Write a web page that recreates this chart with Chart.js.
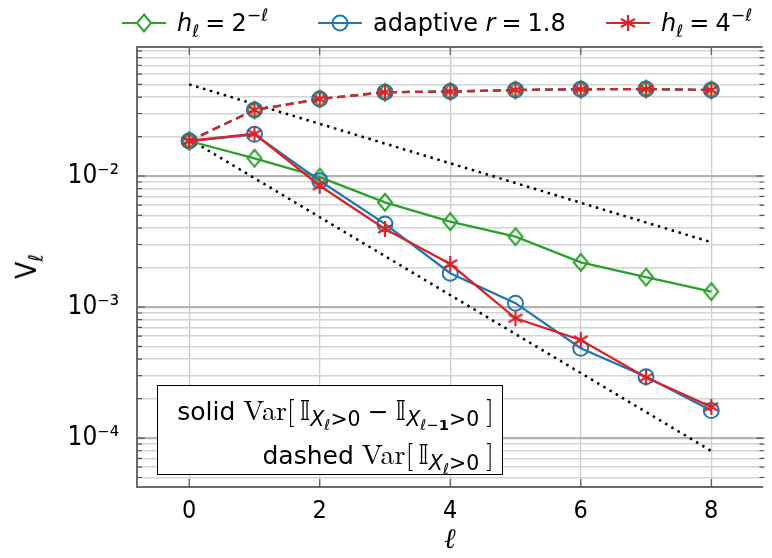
<!DOCTYPE html>
<html>
<head>
<meta charset="utf-8">
<script src="https://cdn.jsdelivr.net/npm/chart.js@4"></script>
<style>
  html, body { margin: 0; padding: 0; background: #fff; overflow: hidden; }
  #wrap { position: relative; width: 772px; height: 558px; font-family: 'DejaVu Sans Condensed', 'DejaVu Sans', sans-serif; color: #000; }
  canvas { position: absolute; left: 0; top: 0; }
  .leg { position: absolute; top: 6px; height: 34px; display: flex; align-items: center; font-family: 'DejaVu Sans', sans-serif; font-size: 24px; white-space: nowrap; }
  .leg svg { margin-right: 11px; }
  .leg .eq { margin: 0 6px; }
  sub, sup { font-size: 72%; line-height: 0; }
  sup { vertical-align: 0.6em; }
  #ylab { position: absolute; left: 14px; top: 250px; font-size: 28px; transform: rotate(-90deg); transform-origin: center; }
  #note { position: absolute; left: 157px; top: 385px; width: 336px; height: 86px; border: 1px solid #000; background: #fff;
          font-family: 'DejaVu Sans', sans-serif; text-align: right; padding-right: 8px; font-size: 25px; line-height: 41px;
          padding-top: 2px; box-sizing: content-box; white-space: nowrap; }
  #note sub { font-size: 82%; vertical-align: -0.28em; }
  #note sub sub { font-size: 72%; vertical-align: -0.28em; }
  .rm { font-family: 'Latin Modern Roman', 'Liberation Serif', 'DejaVu Serif', serif; font-size: 28px; }
  .bb { font-size: 27px; }
  .ob { margin-right: 5px; }
  .cb { margin-left: 7px; }
  .op { margin: 0 7px; }
</style>
</head>
<body>
<div id="wrap">
  <canvas id="chart" width="772" height="558"></canvas>
  <div class="leg" style="left:122px">
    <svg width="44" height="24"><line x1="0" y1="12" x2="44" y2="12" stroke="#2ca02c" stroke-width="2.2"/><path d="M22 3.5 L29 12 L22 20.5 L15 12 Z" fill="#fff" stroke="#2ca02c" stroke-width="2"/></svg>
    <span><i>h</i><sub><i>ℓ</i></sub><span class="eq">=</span>2<sup>−<i>ℓ</i></sup></span>
  </div>
  <div class="leg" style="left:318px">
    <svg width="44" height="24"><line x1="0" y1="12" x2="44" y2="12" stroke="#1f77b4" stroke-width="2.2"/><circle cx="22" cy="12" r="7.5" fill="none" stroke="#1f77b4" stroke-width="2"/></svg>
    <span>adaptive <i>r</i><span class="eq">=</span>1.8</span>
  </div>
  <div class="leg" style="left:606px">
    <svg width="44" height="24"><line x1="0" y1="12" x2="44" y2="12" stroke="#d62728" stroke-width="2.2"/><path d="M22 4 L22 20 M15 8 L29 16 M15 16 L29 8" stroke="#d62728" stroke-width="2.2"/></svg>
    <span><i>h</i><sub><i>ℓ</i></sub><span class="eq">=</span>4<sup>−<i>ℓ</i></sup></span>
  </div>
  <div id="ylab">V<sub><i>ℓ</i></sub></div>
  <div id="note">
    <div>solid <span class="rm">Var</span><span class="rm ob">[</span><span class="bb">𝕀</span><sub><i>X</i><sub><i>ℓ</i></sub>&gt;0</sub><span class="op">−</span><span class="bb">𝕀</span><sub><i>X</i><sub><i>ℓ</i>−<b>1</b></sub>&gt;0</sub><span class="rm cb">]</span></div>
    <div>dashed <span class="rm">Var</span><span class="rm ob">[</span><span class="bb">𝕀</span><sub><i>X</i><sub><i>ℓ</i></sub>&gt;0</sub><span class="rm cb">]</span></div>
  </div>
</div>
<script>
// levels on the x axis
const levels = [0, 1, 2, 3, 4, 5, 6, 7, 8];

// solid lines: Var[I_l - I_{l-1}]
const var2Solid     = [0.0185, 0.01365, 0.0098, 0.0063, 0.00448, 0.00344, 0.00219, 0.00169, 0.00131];
const varAdaptSolid = [0.0185, 0.0208, 0.0092, 0.00431, 0.00181, 0.00107, 0.000484, 0.000294, 0.000162];
const var4Solid     = [0.0185, 0.021, 0.00843, 0.00394, 0.00213, 0.00082, 0.00056, 0.00029, 0.000173];

// dashed lines: Var[I_l]
const var2Dashed     = [0.0185, 0.0319, 0.0387, 0.0436, 0.0441, 0.0453, 0.0459, 0.0461, 0.0453];
const varAdaptDashed = [0.0185, 0.0319, 0.0387, 0.0436, 0.0441, 0.0453, 0.0459, 0.0461, 0.0453];
const var4Dashed     = [0.0185, 0.0319, 0.0387, 0.0436, 0.0441, 0.0453, 0.0459, 0.0461, 0.0453];

// dotted reference slopes
const refLevels = [0, 8];
const refUpper = [0.05, 0.003125];
const refLower = [0.0191, 0.0000797];

// ticks
const xTicks = [0, 2, 4, 6, 8];
const yDecades = [1e-5, 1e-4, 1e-3, 1e-2];
const yLabelled = [1e-4, 1e-3, 1e-2];
const yTickLabels = ['10⁻⁴', '10⁻³', '10⁻²'];

const GREEN = '#2ca02c', BLUE = '#1f77b4', RED = '#d62728';
const FONT = "'DejaVu Sans Condensed', 'DejaVu Sans', sans-serif";

function pts(xs, ys) {
    return xs.map((x, i) => ({ x: x, y: ys[i] }));
}

function makeDiamond(color, w, h) {
    const c = document.createElement('canvas');
    c.width = w + 4; c.height = h + 4;
    const g = c.getContext('2d');
    const cx = c.width / 2, cy = c.height / 2;
    g.strokeStyle = color;
    g.lineWidth = 2;
    g.beginPath();
    g.moveTo(cx, cy - h / 2);
    g.lineTo(cx + w / 2, cy);
    g.lineTo(cx, cy + h / 2);
    g.lineTo(cx - w / 2, cy);
    g.closePath();
    g.stroke();
    return c;
}

function makeStar(color, r) {
    const c = document.createElement('canvas');
    const s = Math.ceil(2 * r + 4);
    c.width = c.height = s;
    const g = c.getContext('2d');
    g.strokeStyle = color;
    g.lineWidth = 2.2;
    g.beginPath();
    for (let k = 0; k < 3; k++) {
        const a = Math.PI / 2 + k * Math.PI / 3;
        g.moveTo(s / 2 + r * Math.cos(a), s / 2 + r * Math.sin(a));
        g.lineTo(s / 2 - r * Math.cos(a), s / 2 - r * Math.sin(a));
    }
    g.stroke();
    return c;
}

const diamond = makeDiamond(GREEN, 14, 17);
const star = makeStar(RED, 8);

function series(label, data, color, style, dashed, order) {
    const ds = {
        label: label,
        data: pts(levels, data),
        borderColor: color,
        backgroundColor: 'rgba(0,0,0,0)',
        borderWidth: 2.3,
        pointStyle: style,
        pointRadius: 7.5,
        pointBorderWidth: 2,
        pointBorderColor: color,
        pointBackgroundColor: 'rgba(0,0,0,0)',
        tension: 0,
        order: order
    };
    if (dashed) ds.borderDash = [8, 5];
    return ds;
}

function refLine(label, data) {
    return {
        label: label,
        data: pts(refLevels, data),
        borderColor: '#000',
        borderWidth: 2.5,
        borderDash: [2.5, 4.7],
        pointRadius: 0,
        order: 10
    };
}

// top frame line and inward tick marks like the original plot
const frameTicks = {
    id: 'frameTicks',
    afterDraw(chart) {
        const { ctx, chartArea: { left, right, top, bottom }, scales: { x, y } } = chart;
        ctx.save();
        ctx.strokeStyle = '#6b6b6b';
        ctx.lineWidth = 2;
        ctx.beginPath();
        ctx.moveTo(left - 1, top);
        ctx.lineTo(right, top);
        ctx.stroke();
        ctx.lineWidth = 1.2;
        ctx.strokeStyle = '#555';
        ctx.beginPath();
        y.ticks.forEach(t => {
            const py = y.getPixelForValue(t.value);
            const len = t.isDecade ? 8 : 5;
            ctx.moveTo(left, py); ctx.lineTo(left + len, py);
            ctx.moveTo(right + 2, py); ctx.lineTo(right + 2 - len, py);
        });
        x.ticks.forEach(t => {
            const px = x.getPixelForValue(t.value);
            ctx.moveTo(px, bottom); ctx.lineTo(px, bottom - 8);
            ctx.moveTo(px, top); ctx.lineTo(px, top + 8);
        });
        ctx.stroke();
        ctx.restore();
    }
};

new Chart(document.getElementById('chart'), {
    type: 'line',
    data: {
        datasets: [
            series('h = 2^-l solid', var2Solid, GREEN, diamond, false, 3),
            series('adaptive solid', varAdaptSolid, BLUE, 'circle', false, 2),
            series('h = 4^-l solid', var4Solid, RED, star, false, 1),
            series('h = 2^-l dashed', var2Dashed, GREEN, diamond, true, 6),
            series('adaptive dashed', varAdaptDashed, BLUE, 'circle', true, 5),
            series('h = 4^-l dashed', var4Dashed, RED, star, true, 4),
            refLine('upper slope', refUpper),
            refLine('lower slope', refLower)
        ]
    },
    options: {
        responsive: false,
        devicePixelRatio: 1,
        animation: false,
        events: [],
        layout: { padding: { top: 47, right: 0, left: 0, bottom: 0 } },
        plugins: { legend: { display: false }, tooltip: { enabled: false } },
        scales: {
            x: {
                type: 'linear',
                min: -0.8,
                max: 8.785,
                afterFit(scale) { scale.height = 71; },
                afterBuildTicks(scale) { scale.ticks = xTicks.map(v => ({ value: v })); },
                grid: { color: '#cdcdcd', lineWidth: 1.3, drawTicks: false },
                border: { display: true, color: '#6b6b6b', width: 2 },
                ticks: { padding: 9, color: '#000', font: { family: FONT, size: 25 } },
                title: { display: true, text: 'ℓ', color: '#000', padding: { top: 6, bottom: 0 },
                         font: { family: "'DejaVu Serif', serif", size: 28, style: 'italic' } }
            },
            y: {
                type: 'logarithmic',
                min: 4.23e-5,
                max: 0.0965,
                afterFit(scale) { scale.width = 137; },
                afterBuildTicks(scale) {
                    const ticks = [];
                    yDecades.forEach(d => {
                        for (let m = 1; m <= 9; m++) {
                            const v = m * d;
                            if (v >= scale.min && v <= scale.max) ticks.push({ value: v, isDecade: m === 1 });
                        }
                    });
                    scale.ticks = ticks;
                },
                grid: {
                    drawTicks: false,
                    color: ctx => (ctx.tick && ctx.tick.isDecade) ? '#b3b3b3' : '#d4d4d4',
                    lineWidth: ctx => (ctx.tick && ctx.tick.isDecade) ? 2.2 : 1.4
                },
                border: { display: true, color: '#6b6b6b', width: 2 },
                ticks: {
                    autoSkip: false,
                    padding: 18,
                    color: '#000',
                    font: { family: FONT, size: 26 },
                    callback: function(value) {
                        const i = yLabelled.findIndex(v => Math.abs(v - value) / v < 1e-6);
                        return i >= 0 ? yTickLabels[i] : '';
                    }
                }
            }
        }
    },
    plugins: [frameTicks]
});
</script>
</body>
</html>
